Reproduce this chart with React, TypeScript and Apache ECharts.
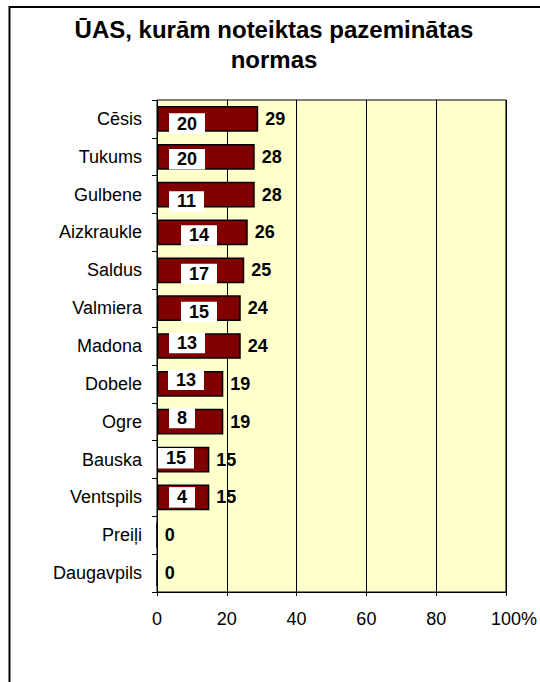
import React, { useEffect, useRef } from "react";
import * as echarts from "echarts";

const categories = [
  "Cēsis", "Tukums", "Gulbene", "Aizkraukle", "Saldus", "Valmiera", "Madona",
  "Dobele", "Ogre", "Bauska", "Ventspils", "Preiļi", "Daugavpils",
];
const percentValues = [29, 28, 28, 26, 25, 24, 24, 19, 19, 15, 15, 0, 0];
const countValues: (number | null)[] = [20, 20, 11, 14, 17, 15, 13, 13, 8, 15, 4, null, null];
const xTicks = [0, 20, 40, 60, 80, 100];

// layout only: manual label box shifts (px) as in the original
const boxShiftX = [12, 12, 12, 24, 24, 24, 12, 11, 12, 1, 12, 0, 0];
const boxShiftY = [4.7, 2.5, 6.8, 3, 3.7, 3.8, -3, -4, -3.7, -1.4, 0, 0, 0];

const FONT = "Liberation Sans, Arial, sans-serif";

export default function App() {
  const ref = useRef<HTMLDivElement>(null);
  useEffect(() => {
    if (!ref.current) return;
    const chart = echarts.init(ref.current, undefined, { renderer: "svg" });
    const maxTick = xTicks[xTicks.length - 1];
    chart.setOption({
      animation: false,
      backgroundColor: "#fff",
      textStyle: { fontFamily: FONT },
      title: {
        text: "ŪAS, kurām noteiktas pazeminātas\nnormas",
        left: 274,
        top: 14,
        padding: 0,
        textAlign: "center",
        textStyle: { fontFamily: FONT, fontSize: 24, fontWeight: "bold", color: "#000", lineHeight: 30 },
      },
      graphic: [
        {
          type: "rect",
          shape: { x: 9.5, y: 7, width: 640, height: 720 },
          style: { fill: "none", stroke: "#000", lineWidth: 2 },
          silent: true,
          z: 100,
        },
      ],
      grid: {
        left: 157,
        right: 31,
        top: 100,
        bottom: 90,
        show: true,
        backgroundColor: "#FFFFCC",
        borderColor: "#000",
        borderWidth: 1,
      },
      xAxis: {
        type: "value",
        min: xTicks[0],
        max: maxTick,
        interval: xTicks[1] - xTicks[0],
        axisLine: { show: true, lineStyle: { color: "#000", width: 1 } },
        axisTick: { show: true, length: 4, lineStyle: { color: "#000" } },
        axisLabel: {
          fontFamily: FONT,
          fontSize: 18,
          color: "#000",
          margin: 18,
          formatter: (v: number) => (v === maxTick ? `{n|${v}}{p|%}` : String(v)),
          rich: {
            n: { fontFamily: FONT, fontSize: 18, color: "#000", padding: [0, 0, 0, 16] },
            p: { fontFamily: FONT, fontSize: 18, color: "#000" },
          },
        },
        splitLine: { show: true, lineStyle: { color: "#000", width: 1 } },
      },
      yAxis: {
        type: "category",
        data: categories,
        inverse: true,
        axisLine: { show: true, lineStyle: { color: "#000", width: 1 } },
        axisTick: { show: true, length: 5, lineStyle: { color: "#000" } },
        axisLabel: { fontFamily: FONT, fontSize: 18, color: "#000", margin: 15 },
        splitLine: { show: false },
      },
      series: [
        {
          type: "bar",
          data: percentValues,
          barWidth: "68%",
          itemStyle: { color: "#800000", borderColor: "#000", borderWidth: 1.5 },
          label: {
            show: true,
            position: "right",
            distance: 7,
            fontFamily: FONT,
            fontSize: 18,
            fontWeight: "bold",
            color: "#000",
          },
          z: 2,
        },
        {
          type: "bar",
          barGap: "-100%",
          barWidth: "68%",
          silent: true,
          itemStyle: { color: "rgba(0,0,0,0)", borderWidth: 0 },
          data: percentValues.map((v, i) => ({
            value: v,
            label: {
              show: countValues[i] !== null,
              position: [boxShiftX[i], "50%"],
              offset: [0, boxShiftY[i]],
              formatter: String(countValues[i] ?? ""),
            },
          })),
          label: {
            align: "left",
            verticalAlign: "middle",
            backgroundColor: "#fff",
            padding: [4.5, 8, 0, 8],
            lineHeight: 16,
            fontFamily: FONT,
            fontSize: 18,
            fontWeight: "bold",
            color: "#000",
          },
          z: 3,
        },
      ],
    });
    return () => chart.dispose();
  }, []);
  return (
    <div
      ref={ref}
      style={{ position: "absolute", left: 0, top: 0, width: 540, height: 682 }}
    />
  );
}
